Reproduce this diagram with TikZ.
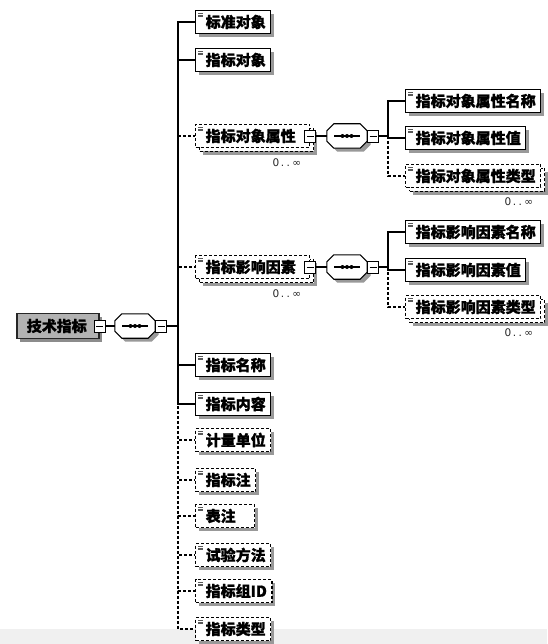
\documentclass[tikz,border=0pt]{standalone}
\usepackage{fontspec}
\newfontfamily\cjk{Noto Sans CJK SC}[BoldFeatures={FakeBold=1}]
\newfontfamily\smallsans{DejaVu Sans}
\usetikzlibrary{shadows}

% sequence compositor: octagon with the three-dot bar, plus its collapse box
\newcommand\seqnode[3]{%
  \node[minimum width=40pt,minimum height=24pt] (#1) at (#2,#3) {};
  \draw[line width=1.1pt,fill=white,boxshadow]
    ([xshift=7pt]#1.north west) -- ([xshift=-7pt]#1.north east)
    -- ([yshift=-7pt]#1.north east) -- ([yshift=7pt]#1.south east)
    -- ([xshift=-7pt]#1.south east) -- ([xshift=7pt]#1.south west)
    -- ([yshift=7pt]#1.south west) -- ([yshift=-7pt]#1.north west) -- cycle;
  \draw[line width=1.2pt] ([xshift=-13pt]#1.center) -- ([xshift=13pt]#1.center);
  \foreach \dx in {-4.5,0,4.5} \fill ([xshift=\dx pt]#1.center) circle (2pt);
  \node[minusbox,anchor=west] (#1m) at (#1.east) {};
}
% the occurrence range printed under repeatable elements
\newcommand\occurs{0\kern1.5pt.\kern2.5pt.\kern2.5pt∞}

\begin{document}
\begin{tikzpicture}[x=1pt,y=-1pt,
  every node/.style={inner sep=0pt},
  boxshadow/.style={general shadow={shadow xshift=3.5pt,shadow yshift=-3.5pt,fill=black!40}},
  icon/.style={path picture={
      \foreach \k in {3,4.6,6.2}
        \draw[solid,line width=0.6pt,black!65]
          ([xshift=2.5pt,yshift=-\k pt]path picture bounding box.north west) -- ++(5pt,0);}},
  elembase/.style={draw=black,line width=1.4pt,fill=white,anchor=west,
     minimum height=23pt,inner xsep=5pt,inner ysep=0pt,
     font=\cjk\bfseries\fontsize{15}{15}\selectfont,icon,
     execute at begin node=\hspace{5pt}},
  elem/.style={elembase,boxshadow},
  optelem/.style={elembase,boxshadow,dash pattern=on 3pt off 2pt},
  multelem/.style={elembase,dash pattern=on 3pt off 2pt,
     general shadow={shadow xshift=7.5pt,shadow yshift=-7.5pt,fill=black!40},
     general shadow={shadow xshift=4pt,shadow yshift=-4pt,fill=white,draw=black,
        line width=1.4pt,dash pattern=on 3pt off 2pt}},
  rootelem/.style={draw=black!85,line width=1.5pt,fill=black!30,anchor=west,
     minimum height=25pt,inner xsep=5pt,inner ysep=0pt,
     font=\cjk\bfseries\fontsize{15}{15}\selectfont,
     general shadow={shadow xshift=3.5pt,shadow yshift=-3.5pt,fill=black!45},
     execute at begin node=\hspace{5pt}},
  minusbox/.style={draw=black,line width=0.9pt,fill=white,
     minimum width=11pt,minimum height=12pt,
     path picture={\draw[line width=0.9pt]
        ([xshift=2pt]path picture bounding box.west) --
        ([xshift=-2pt]path picture bounding box.east);}},
  mult/.style={anchor=north east,font=\smallsans\fontsize{10.5}{10.5}\selectfont,text=black!85},
  conn/.style={draw=black,line width=1.3pt},
  optconn/.style={draw=black,line width=1.4pt,dash pattern=on 3pt off 2pt},
]
% page and the pale strip along the bottom
\fill[white] (0,0) rectangle (547,644);
\useasboundingbox (0,0) rectangle (547,644);
\fill[black!6] (0,629) rectangle (547,644);

% root element and its sequence
\node[rootelem] (root) at (16,326) {技术指标\hspace{7pt}\null};
\node[minusbox] (rootm) at (root.east) {};
\seqnode{seq}{135}{326}
\draw[conn] (rootm.east) -- (seq.west);
\coordinate (trunk) at (178,326);
\draw[conn] (seqm.east) -- (trunk);

% children of the sequence
\node[elem] (c1) at (195,22) {标准对象};
\node[elem] (c2) at (195,60) {指标对象};
\node[multelem] (c3) at (195,136) {指标对象属性\hspace{9pt}\null};
\node[minusbox] (c3m) at (c3.east) {};
\node[mult] (c3n) at ([xshift=-9pt,yshift=-10pt]c3.south east) {\occurs};
\node[multelem] (c4) at (195,267) {指标影响因素\hspace{9pt}\null};
\node[minusbox] (c4m) at (c4.east) {};
\node[mult] (c4n) at ([xshift=-9pt,yshift=-10pt]c4.south east) {\occurs};
\node[elem] (c5) at (195,365) {指标名称};
\node[elem] (c6) at (195,404) {指标内容};
\node[optelem] (c7) at (195,440) {计量单位};
\node[optelem] (c8) at (195,480) {指标注};
\node[optelem] (c9) at (195,516) {表注\hspace{14pt}\null};
\node[optelem] (c10) at (195,555) {试验方法};
\node[optelem] (c11) at (195,591) {指标组ID};
\node[optelem] (c12) at (195,629) {指标类型};

\draw[conn] (trunk) |- (c1.west);
\draw[conn] (trunk) |- (c2.west);
\draw[optconn] (trunk) |- (c3.west);
\draw[optconn] (trunk) |- (c4.west);
\draw[conn] (trunk) |- (c5.west);
\draw[conn] (trunk) |- (c6.west);
\draw[optconn] (trunk) |- (c7.west);
\draw[optconn] (trunk) |- (c8.west);
\draw[optconn] (trunk) |- (c9.west);
\draw[optconn] (trunk) |- (c10.west);
\draw[optconn] (trunk) |- (c11.west);
\draw[optconn] (trunk) |- (c12.west);

% content of 指标对象属性
\seqnode{seqa}{347}{136}
\draw[conn] (c3m.east) -- (seqa.west);
\coordinate (trunka) at (388,136);
\draw[conn] (seqam.east) -- (trunka);
\node[elem] (s1) at (405,101) {指标对象属性名称};
\node[elem] (s2) at (405,138) {指标对象属性值};
\node[multelem] (s3) at (405,176) {指标对象属性类型};
\node[mult] (s3n) at ([xshift=-8pt,yshift=-9pt]s3.south east) {\occurs};
\draw[conn] (trunka) |- (s1.west);
\draw[conn] (trunka) |- (s2.west);
\draw[optconn] (trunka) |- (s3.west);

% content of 指标影响因素
\seqnode{seqb}{347}{267}
\draw[conn] (c4m.east) -- (seqb.west);
\coordinate (trunkb) at (388,267);
\draw[conn] (seqbm.east) -- (trunkb);
\node[elem] (t1) at (405,232) {指标影响因素名称};
\node[elem] (t2) at (405,270) {指标影响因素值};
\node[multelem] (t3) at (405,307) {指标影响因素类型};
\node[mult] (t3n) at ([xshift=-8pt,yshift=-9pt]t3.south east) {\occurs};
\draw[conn] (trunkb) |- (t1.west);
\draw[conn] (trunkb) |- (t2.west);
\draw[optconn] (trunkb) |- (t3.west);
\end{tikzpicture}
\end{document}
